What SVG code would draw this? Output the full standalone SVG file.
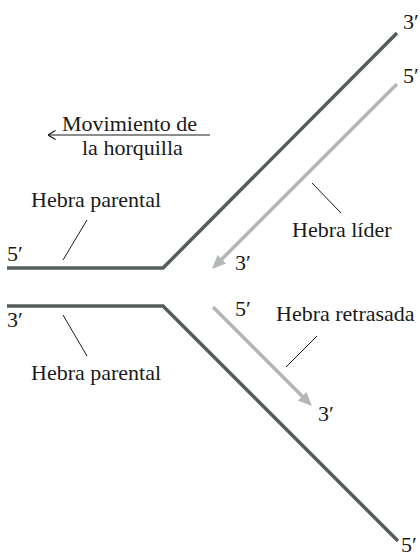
<svg xmlns="http://www.w3.org/2000/svg" width="420" height="558" viewBox="0 0 420 558">
<style>
.t{font-family:"Liberation Serif","Times New Roman",serif;font-size:22px;fill:#1a1a1a}
.par{fill:none;stroke:#555d5b;stroke-width:3.5;stroke-linejoin:miter}
.new{fill:none;stroke:#b4b7b7;stroke-width:3.5}
.lead{fill:none;stroke:#1a1a1a;stroke-width:1}
</style>
<defs>
<marker id="ah" viewBox="0 0 14 12" refX="4" refY="6" markerWidth="14" markerHeight="12" markerUnits="userSpaceOnUse" orient="auto">
<path d="M0,0 L14,6 L0,12 z" fill="#b4b7b7"/>
</marker>
<marker id="open" viewBox="0 0 8 10" refX="7.5" refY="5" markerWidth="8" markerHeight="10" markerUnits="userSpaceOnUse" orient="auto">
<path d="M0,0.5 L7.5,5 L0,9.5" fill="none" stroke="#1a1a1a" stroke-width="1.2"/>
</marker>
</defs>
<g id="parental-top">
<polyline class="par" points="7,268 163,268 397,33"/>
</g>
<g id="parental-bottom">
<polyline class="par" points="7,306 163,306 398,541"/>
</g>
<g id="leading-strand">
<line class="new" x1="397" y1="84" x2="219" y2="262" marker-end="url(#ah)"/>
</g>
<g id="lagging-strand">
<line class="new" x1="213" y1="307" x2="305" y2="399" marker-end="url(#ah)"/>
</g>
<g id="connectors">
<line class="lead" x1="210" y1="135" x2="48" y2="135" marker-end="url(#open)"/>
<line class="lead" x1="87" y1="220" x2="63" y2="260"/>
<line class="lead" x1="312" y1="183" x2="341" y2="213"/>
<line class="lead" x1="63" y1="315" x2="87" y2="356"/>
<line class="lead" x1="317" y1="336" x2="286" y2="367"/>
</g>
<g id="labels">
<text class="t" x="403" y="29">3′</text>
<text class="t" x="403" y="83">5′</text>
<text class="t" x="62" y="131">Movimiento de</text>
<text class="t" x="82" y="155">la horquilla</text>
<text class="t" x="31" y="207">Hebra parental</text>
<text class="t" x="7" y="261">5′</text>
<text class="t" x="292" y="237">Hebra líder</text>
<text class="t" x="235" y="270">3′</text>
<text class="t" x="7" y="327">3′</text>
<text class="t" x="31" y="380">Hebra parental</text>
<text class="t" x="235" y="316">5′</text>
<text class="t" x="276" y="321">Hebra retrasada</text>
<text class="t" x="318" y="421">3′</text>
<text class="t" x="401" y="552">5′</text>
</g>
</svg>
